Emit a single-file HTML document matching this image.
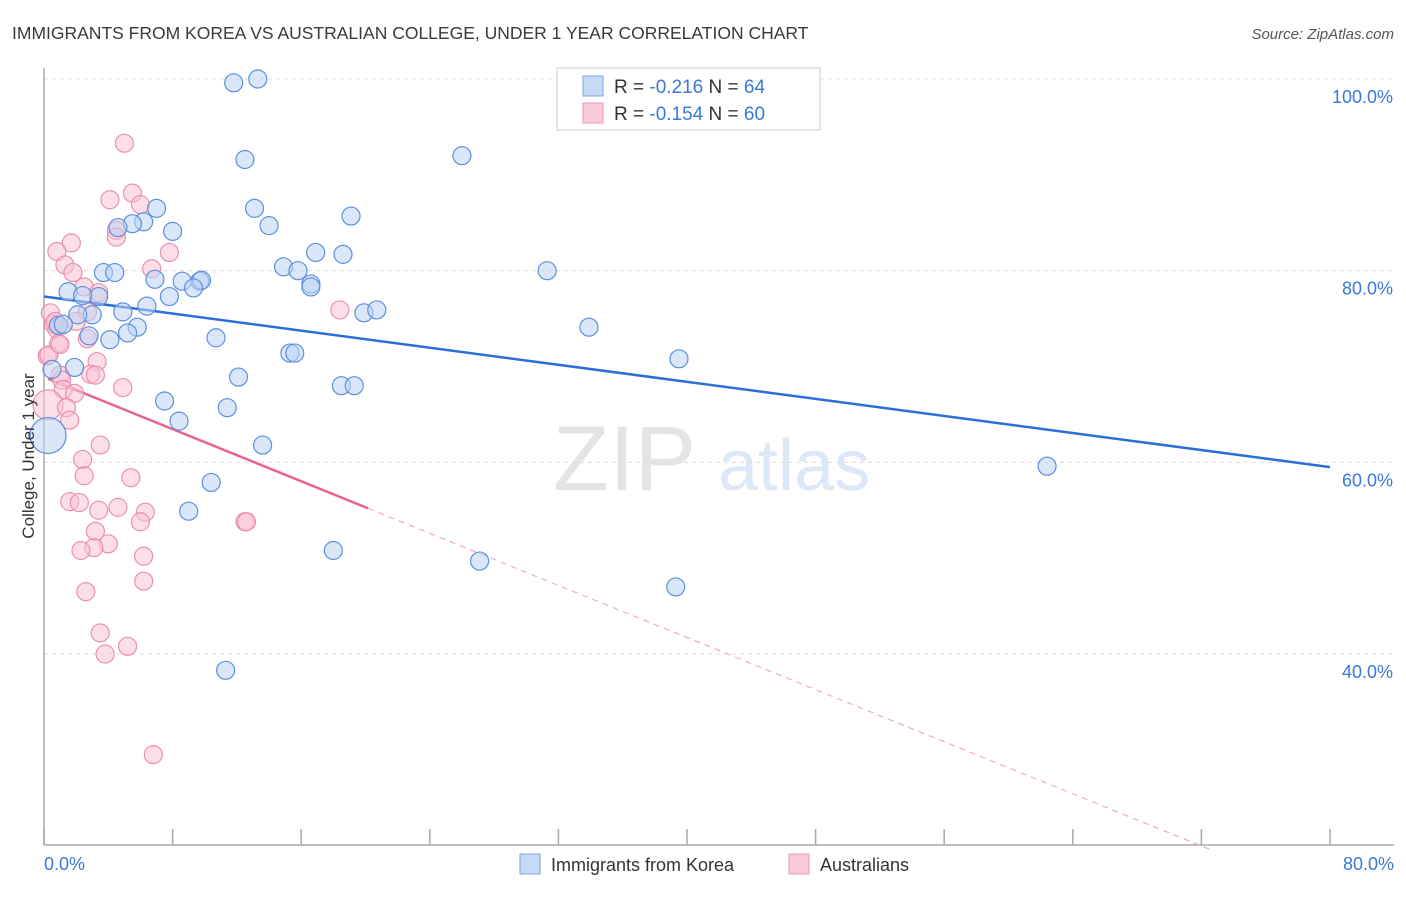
<!DOCTYPE html>
<html><head><meta charset="utf-8"><style>
body{margin:0;background:#fff;font-family:"Liberation Sans",sans-serif;}
svg text{font-family:"Liberation Sans",sans-serif;}
</style></head><body>
<svg id="chart" width="1406" height="892" xmlns="http://www.w3.org/2000/svg">
<text x="12" y="39" font-size="17.5" fill="#3a3a3a">IMMIGRANTS FROM KOREA VS AUSTRALIAN COLLEGE, UNDER 1 YEAR CORRELATION CHART</text>
<text x="1394" y="39" font-size="15" fill="#555" font-style="italic" text-anchor="end">Source: ZipAtlas.com</text>
<g>
<text x="553" y="490" font-size="92" fill="#e4e4e4" font-family="Liberation Serif, serif">ZIP</text>
<text x="718" y="490" font-size="72" fill="#dce7f7">atlas</text>
</g>
<g id="grid"></g>
<g id="axes"></g>
<g id="lines"></g>
<g id="pts"></g>
<text transform="translate(34,456) rotate(-90)" font-size="17" fill="#333" text-anchor="middle">College, Under 1 year</text>
<g>
<rect x="557" y="68" width="263" height="62" fill="#fff" stroke="#ccc"/>
<rect x="583" y="76" width="20" height="20" fill="#c5daf5" stroke="#7aa6e6"/>
<rect x="583" y="103" width="20" height="20" fill="#f9cbd9" stroke="#ef9ab5"/>
<text x="614" y="93" font-size="19" fill="#333">R = <tspan fill="#3b78d8">-0.216</tspan>    N = <tspan fill="#3b78d8">64</tspan></text>
<text x="614" y="120" font-size="19" fill="#333">R = <tspan fill="#3b78d8">-0.154</tspan>    N = <tspan fill="#3b78d8">60</tspan></text>
</g>
<g>
<rect x="520" y="854" width="20" height="20" fill="#c5daf5" stroke="#7aa6e6"/>
<text x="551" y="871" font-size="18" fill="#333">Immigrants from Korea</text>
<rect x="789" y="854" width="20" height="20" fill="#f9cbd9" stroke="#ef9ab5"/>
<text x="820" y="871" font-size="18" fill="#333">Australians</text>
</g>
</svg>
<script>
const blueX=[11.8,13.3,12.5,26.0,13.1,14.0,19.1,7.0,6.2,5.5,4.6,8.0,18.6,16.9,14.9,15.8,31.3,3.7,4.4,8.6,9.7,9.8,6.9,16.6,16.6,9.3,1.5,3.4,2.4,7.8,6.4,4.9,3.0,2.1,19.9,20.7,33.9,5.8,5.2,10.7,4.1,2.8,0.9,1.2,15.3,15.6,39.5,1.9,0.5,12.1,18.5,19.3,7.5,11.4,8.4,13.6,0.25,62.4,10.4,9.0,18.0,27.1,39.3,11.3];
const blueY=[99.6,100,91.6,92.0,86.5,84.7,85.7,86.5,85.1,84.9,84.5,84.1,81.7,81.9,80.4,80.0,80.0,79.8,79.8,78.9,78.9,79.0,79.1,78.6,78.3,78.2,77.8,77.3,77.4,77.3,76.3,75.7,75.4,75.4,75.6,75.9,74.1,74.1,73.5,73.0,72.8,73.2,74.3,74.4,71.4,71.4,70.8,69.9,69.7,68.9,68.0,68.0,66.4,65.7,64.3,61.8,62.8,59.6,57.9,54.9,50.8,49.7,47.0,38.3];
const blueBig=[56];
const pinkX=[5.0,5.5,4.1,6.0,4.5,4.5,1.7,0.8,1.3,1.8,7.8,6.7,2.5,3.4,2.7,2.0,0.4,0.6,0.8,2.7,0.9,0.2,3.3,2.9,3.2,1.0,1.1,4.9,1.2,1.9,0.25,1.4,1.6,18.4,3.5,2.4,2.5,5.4,1.6,2.2,6.3,4.6,3.4,3.2,6.0,4.0,3.1,2.3,6.2,6.2,2.6,3.5,5.2,3.8,12.5,12.6,6.8,0.3,1.0,0.7];
const pinkY=[93.3,88.1,87.4,86.9,84.2,83.5,82.9,82.0,80.6,79.8,81.9,80.2,78.3,77.7,75.7,74.7,75.6,74.4,73.9,72.9,72.4,71.1,70.5,69.2,69.1,69.1,68.6,67.8,67.6,67.2,66.0,65.7,64.4,75.9,61.8,60.3,58.6,58.4,55.9,55.8,54.8,55.3,55.0,52.8,53.8,51.5,51.1,50.8,50.2,47.6,46.5,42.2,40.8,40.0,53.8,53.8,29.5,71.2,72.3,74.7];
const pinkBig=[30];
const yTicks=[40,60,80,100];
const xTickLabels=["0.0%","80.0%"];
const blueTrend=[77.3,59.5];   // y at x=0 and x=80
const pinkTrend=[68.9,55.2];   // y at x=0 and x=20.16
const pinkSolidEnd=20.16;
const NS="http://www.w3.org/2000/svg";
const X0=44,X1=1330,Y100=79,Y40=654;
const sx=v=>X0+(X1-X0)*v/80;
const sy=v=>Y100+(100-v)*(Y40-Y100)/60;
function mk(tag,attrs,parent){const e=document.createElementNS(NS,tag);for(const k in attrs)e.setAttribute(k,attrs[k]);parent.appendChild(e);return e;}
const grid=document.getElementById('grid'),axes=document.getElementById('axes'),lines=document.getElementById('lines'),pts=document.getElementById('pts');
yTicks.forEach(t=>{
 const l=mk('line',{x1:X0,x2:1394,y1:sy(t),y2:sy(t),stroke:'#ddd','stroke-dasharray':'4,4'},grid);
 
 
 const tx=mk('text',{x:1393,y:sy(t)+24,'font-size':18,fill:'#3b78d8','text-anchor':'end'},grid);
 tx.textContent=t.toFixed(1)+'%';
 
 
});
mk('line',{x1:X0,x2:X0,y1:68,y2:845,stroke:'#aaa','stroke-width':1.5},axes);
mk('line',{x1:X0,x2:1394,y1:845,y2:845,stroke:'#aaa','stroke-width':1.5},axes);
for(let i=0;i<=10;i++){mk('line',{x1:sx(i*8),x2:sx(i*8),y1:829,y2:845,stroke:'#aaa','stroke-width':1.5},axes);}
const xl0=mk('text',{x:44,y:870,'font-size':18,fill:'#3b78d8'},axes);xl0.textContent=xTickLabels[0];


const xl1=mk('text',{x:1394,y:870,'font-size':18,fill:'#3b78d8','text-anchor':'end'},axes);xl1.textContent=xTickLabels[1];


function drawPts(xs,ys,big,fill,stroke,name,bigR){
 xs.forEach((x,i)=>{const c=mk('circle',{cx:sx(x),cy:sy(ys[i]),r:big.includes(i)?bigR:9,fill:fill,'fill-opacity':0.55,stroke:stroke,'stroke-width':1.2},pts);
 
 });
}
drawPts(pinkX,pinkY,pinkBig,'#f9c2d3','#ec8fae','point-australians',15);
drawPts(blueX,blueY,blueBig,'#bcd4f4','#5b8fdf','point-korea',18);
const bl=mk('line',{x1:sx(0),y1:sy(blueTrend[0]),x2:sx(80),y2:sy(blueTrend[1]),stroke:'#2a6fd6','stroke-width':2.5},lines);


const slope=(pinkTrend[1]-pinkTrend[0])/pinkSolidEnd;
const pl=mk('line',{x1:sx(0.25),y1:sy(pinkTrend[0]+slope*0.25),x2:sx(pinkSolidEnd),y2:sy(pinkTrend[1]),stroke:'#e8648f','stroke-width':2.5},lines);


const xEnd=72.5;
const pd=mk('line',{x1:sx(pinkSolidEnd),y1:sy(pinkTrend[1]),x2:sx(xEnd),y2:sy(pinkTrend[0]+slope*xEnd),stroke:'#e8a0b8','stroke-width':1,'stroke-dasharray':'6,5'},lines);


</script>
</body></html>
